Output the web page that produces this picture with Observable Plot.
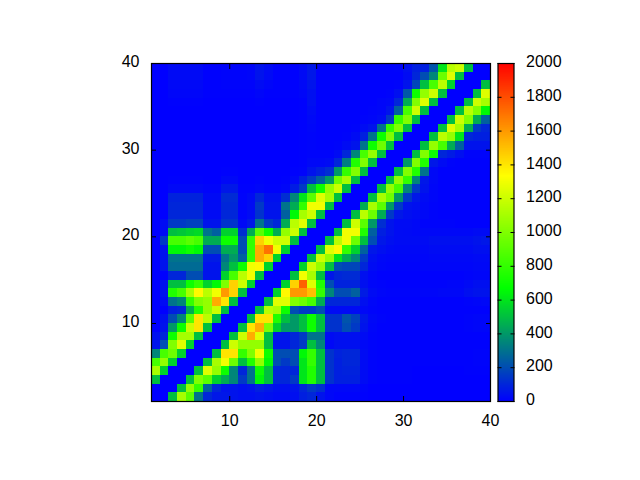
<!DOCTYPE html>
<html><head><meta charset="utf-8">
<script src="https://cdn.jsdelivr.net/npm/d3@7"></script>
<script src="https://cdn.jsdelivr.net/npm/@observablehq/plot@0.6"></script>
<style>
html,body{margin:0;padding:0;background:#fff}
#c{position:relative;width:640px;height:480px}
#c svg{position:absolute;left:0;top:0;background:transparent}
</style></head><body><div id="c"></div>
<script>
const r1=[0,0,500,1100,900,300,100,60,60,50,40,40,50,40,30,30,40,80,100,50,20,10,10,10,5,0,0,0,0,0,0,0,0,0,0,0,0,0,0];
const r2=[0,0,0,500,1050,800,250,100,50,50,40,50,80,60,40,40,50,100,150,120,20,20,20,20,10,0,0,0,0,0,0,0,0,0,0,0,0,0,0];
const r3=[500,0,0,0,500,1000,900,550,450,350,150,300,650,500,100,100,150,600,750,500,130,80,80,80,30,10,5,5,5,5,0,0,0,0,0,0,0,0,0];
const r4=[1100,550,0,0,0,500,1250,1050,700,350,100,300,700,500,100,100,100,600,750,500,130,80,90,90,30,10,5,5,5,5,0,0,0,0,0,0,5,5,5];
const r5=[850,1050,550,0,0,0,500,1100,1300,950,500,750,1050,650,200,150,200,600,800,500,130,80,100,100,30,10,5,5,5,5,5,5,5,5,5,5,5,10,10];
const r6=[350,850,950,550,0,0,0,500,1400,1400,800,1000,1300,700,200,200,200,650,800,500,130,90,100,100,30,10,5,5,5,5,5,5,5,5,5,5,5,10,10];
const r7=[50,200,1000,1250,550,0,0,0,500,1200,1050,1050,1050,500,50,50,100,150,500,350,20,40,40,40,20,10,5,5,5,5,5,5,5,5,5,5,5,5,5];
const r8=[40,100,700,1100,1100,500,0,0,0,500,1200,1550,1250,500,60,60,100,150,300,300,30,40,40,40,30,10,5,5,5,5,5,5,5,5,5,5,5,5,5];
const r9=[0,50,400,700,1200,1400,500,0,0,0,500,1400,1550,1000,550,400,400,500,700,500,130,130,200,150,50,15,5,5,5,5,5,5,5,5,5,5,10,15,15];
const r10=[0,40,200,350,900,1400,1150,500,0,0,0,500,1400,1400,750,500,400,500,700,500,130,130,220,170,60,20,10,5,5,5,5,5,5,5,5,5,10,15,15];
const r11=[0,0,80,100,450,750,1050,1200,500,0,0,0,500,1150,1100,700,200,150,150,200,30,30,30,30,20,10,5,5,5,5,5,5,5,5,5,5,5,5,5];
const r12=[0,30,300,350,800,1000,1050,1550,1400,500,0,0,0,500,1250,1250,1000,950,850,450,100,100,100,100,40,15,5,5,5,5,5,5,5,5,5,5,10,15,20];
const r13=[0,50,750,850,1100,1350,1150,1300,1600,1450,500,0,0,0,550,1350,1600,1600,1500,800,350,200,200,250,70,30,15,10,10,10,10,15,15,20,20,20,40,50,50];
const r14=[0,50,500,500,700,800,550,650,1000,1450,1200,550,0,0,0,550,1450,1750,1250,750,200,90,90,90,40,15,10,5,5,5,5,10,10,10,15,15,25,40,40];
const r15=[0,0,100,100,200,200,50,50,550,850,1150,1300,500,0,0,0,500,1300,1100,500,60,100,110,110,40,15,5,5,5,5,5,5,5,5,5,5,10,15,15];
const r16=[0,50,280,280,280,280,50,50,350,500,700,1300,1350,550,0,0,0,550,1200,1050,500,200,180,180,100,30,15,10,10,10,10,15,15,15,15,15,15,20,20];
const r17=[0,50,300,300,300,300,70,70,300,400,250,800,1550,1450,550,0,0,0,500,1200,1050,600,450,350,150,40,20,15,15,15,15,15,20,20,20,20,20,25,25];
const r18=[0,50,650,650,700,650,200,200,450,450,200,800,1550,1700,1300,550,0,0,0,500,1250,1350,800,550,250,60,40,25,20,20,20,20,30,30,30,30,30,40,40];
const r19=[0,150,850,850,900,850,450,450,700,700,200,800,1450,1300,1200,1200,500,0,0,0,500,1150,1300,950,500,200,60,40,30,30,30,30,40,40,40,40,40,50,60];
const r20=[0,30,500,520,550,570,300,250,550,550,120,450,900,700,450,1050,1200,500,0,0,0,500,1300,1300,750,250,80,50,30,25,20,20,20,20,20,20,20,30,30];
const r21=[0,30,150,150,170,170,50,50,130,130,20,60,300,150,100,450,1150,1250,500,0,0,0,500,1200,900,400,120,50,30,30,20,10,10,10,10,5,5,5,5];
const r22=[0,0,100,100,100,100,30,30,100,100,10,30,130,50,50,250,650,1100,1200,500,0,0,0,500,1150,950,450,150,60,40,30,20,10,5,5,5,5,5,5];
const r23=[0,0,100,100,100,100,30,30,100,100,10,30,150,50,50,300,450,800,1300,1300,500,0,0,0,450,1100,900,400,150,50,40,20,10,5,5,5,5,5,5];
const r24=[0,0,90,90,90,90,25,25,110,110,10,25,100,40,40,120,350,600,900,1250,1100,500,0,0,0,500,1100,950,400,150,60,30,15,5,5,5,5,5,5];
const r25=[0,0,20,20,20,20,10,10,60,60,5,5,15,5,5,15,70,150,500,700,1050,1200,500,0,0,0,500,1050,850,350,150,50,15,5,5,5,5,5,5];
const r26=[0,0,5,5,5,5,0,0,20,20,0,0,5,0,0,5,20,80,150,250,400,950,1100,500,0,0,0,500,1050,800,350,60,20,5,5,5,5,5,5];
const r27=[0,0,0,0,0,0,0,0,5,5,0,0,0,0,0,0,5,10,50,80,120,400,800,1000,500,0,0,0,500,1000,750,300,20,5,5,5,5,5,5];
const r28=[0,0,0,0,0,0,0,0,0,0,0,0,0,0,0,0,0,5,20,20,30,100,330,750,1000,500,0,0,0,400,1000,750,60,30,10,5,5,5,5];
const r29=[0,0,0,0,0,0,0,0,0,0,0,0,0,0,0,0,0,5,10,10,10,30,100,350,850,1050,500,0,0,0,500,1000,700,100,70,40,10,10,10];
const r30=[0,0,0,0,0,0,0,0,0,0,0,0,0,0,0,0,0,5,10,5,5,10,30,50,300,700,950,500,0,0,0,500,1050,850,450,250,50,50,50];
const r31=[0,0,0,0,0,0,0,0,0,0,0,0,0,0,0,0,0,5,10,5,5,5,10,30,80,300,700,1000,500,0,0,0,500,1150,1050,600,100,80,80];
const r32=[0,0,0,0,0,0,0,0,0,0,0,0,0,0,0,0,0,5,15,5,5,5,5,10,30,50,300,800,1000,500,0,0,0,500,1250,1100,450,150,100];
const r33=[0,0,0,0,0,0,0,0,0,0,0,0,0,0,0,0,0,5,20,5,5,5,5,5,10,15,30,150,800,1000,500,0,0,0,500,1200,1000,450,250];
const r34=[0,0,0,0,0,0,0,0,0,0,0,0,0,0,0,0,0,5,30,5,5,5,5,5,5,10,15,50,250,850,1200,500,0,0,0,500,1150,1000,650];
const r35=[0,0,5,5,5,5,0,0,0,0,0,0,5,0,0,0,0,5,40,5,5,5,5,5,5,5,15,20,100,450,1000,1250,500,0,0,0,500,1200,1100];
const r36=[0,0,15,15,15,15,5,5,5,5,5,5,15,5,5,5,5,15,40,5,5,5,5,5,5,5,5,10,40,230,700,1050,1200,500,0,0,0,500,1250];
const r37=[0,0,20,20,20,20,5,5,10,10,10,10,30,15,5,5,5,20,50,5,5,5,5,5,5,5,5,5,10,50,180,500,850,1150,550,0,0,0,500];
const r38=[0,0,25,25,25,25,5,5,10,10,10,15,50,25,5,5,5,25,60,5,5,5,5,5,5,5,5,5,5,30,100,200,350,950,1250,500,0,0,0];
const r39=[0,0,25,25,25,25,5,5,10,10,10,15,50,30,5,5,5,25,60,5,5,5,5,5,5,5,5,5,10,40,80,80,220,600,1150,1200,500,0,0];
const rows=[r1,r2,r3,r4,r5,r6,r7,r8,r9,r10,r11,r12,r13,r14,r15,r16,r17,r18,r19,r20,r21,r22,r23,r24,r25,r26,r27,r28,r29,r30,r31,r32,r33,r34,r35,r36,r37,r38,r39];
const axisTicks=[10,20,30,40];
const barTicks=[0,200,400,600,800,1000,1200,1400,1600,1800,2000];
const paletteStops=[0,2000/3,4000/3,2000];
const paletteColors=["#0000ff","#00ff00","#ffff00","#ff0000"];

const cells=rows.flatMap((row,j)=>row.map((v,i)=>({x:i+1,y:j+1,v})));
const color={type:"linear",domain:paletteStops,range:paletteColors,interpolate:"rgb",clamp:true};
const font={fontFamily:"'Liberation Sans',Arial,sans-serif",fontSize:"16px",color:"#000",background:"transparent",overflow:"visible"};
const inward={stroke:"black",strokeWidth:1,strokeOpacity:1};
const plain=d=>String(d);
const blank=()=>"";

const main=Plot.plot({
  width:640,height:480,marginLeft:151,marginRight:150,marginTop:63,marginBottom:79,
  style:font,
  x:{domain:[1,40]},y:{domain:[1,40]},color,
  marks:[
    Plot.rect(cells,{x1:"x",x2:d=>d.x+1,y1:"y",y2:d=>d.y+1,fill:"v",shapeRendering:"crispEdges"}),
    Plot.axisX({anchor:"bottom",ticks:axisTicks,tickSize:-5,tickFormat:blank,label:null,...inward}),
    Plot.axisX({anchor:"bottom",ticks:axisTicks,tickSize:0,tickPadding:12,tickFormat:plain,label:null,fill:"black",dy:1}),
    Plot.axisX({anchor:"top",ticks:axisTicks,tickSize:-5,tickFormat:blank,label:null,...inward}),
    Plot.axisY({anchor:"left",ticks:axisTicks,tickSize:-5,tickFormat:blank,label:null,...inward}),
    Plot.axisY({anchor:"left",ticks:axisTicks,tickSize:0,tickPadding:12,tickFormat:plain,label:null,fill:"black",dy:-1.5}),
    Plot.axisY({anchor:"right",ticks:axisTicks,tickSize:-5,tickFormat:blank,label:null,...inward}),
    Plot.frame({stroke:"black",strokeWidth:1.2})
  ]
});
const steps=d3.range(0,2000,4);
const bar=Plot.plot({
  width:640,height:480,marginLeft:497.5,marginRight:126.5,marginTop:63,marginBottom:79,
  style:font,
  x:{domain:[0,1],axis:null},y:{domain:[0,2000]},color,
  marks:[
    Plot.rect(steps,{x1:0,x2:1,y1:d=>d,y2:d=>d+4,fill:d=>d+2,shapeRendering:"crispEdges"}),
    Plot.axisY({anchor:"right",ticks:barTicks,tickSize:-4,tickFormat:blank,label:null,...inward}),
    Plot.axisY({anchor:"right",ticks:barTicks,tickSize:0,tickPadding:12,tickFormat:plain,label:null,fill:"black",dy:-1.5}),
    Plot.axisY({anchor:"left",ticks:barTicks,tickSize:-4,tickFormat:blank,label:null,...inward}),
    Plot.frame({stroke:"black",strokeWidth:1.2})
  ]
});
document.getElementById("c").append(main,bar);
</script></body></html>
